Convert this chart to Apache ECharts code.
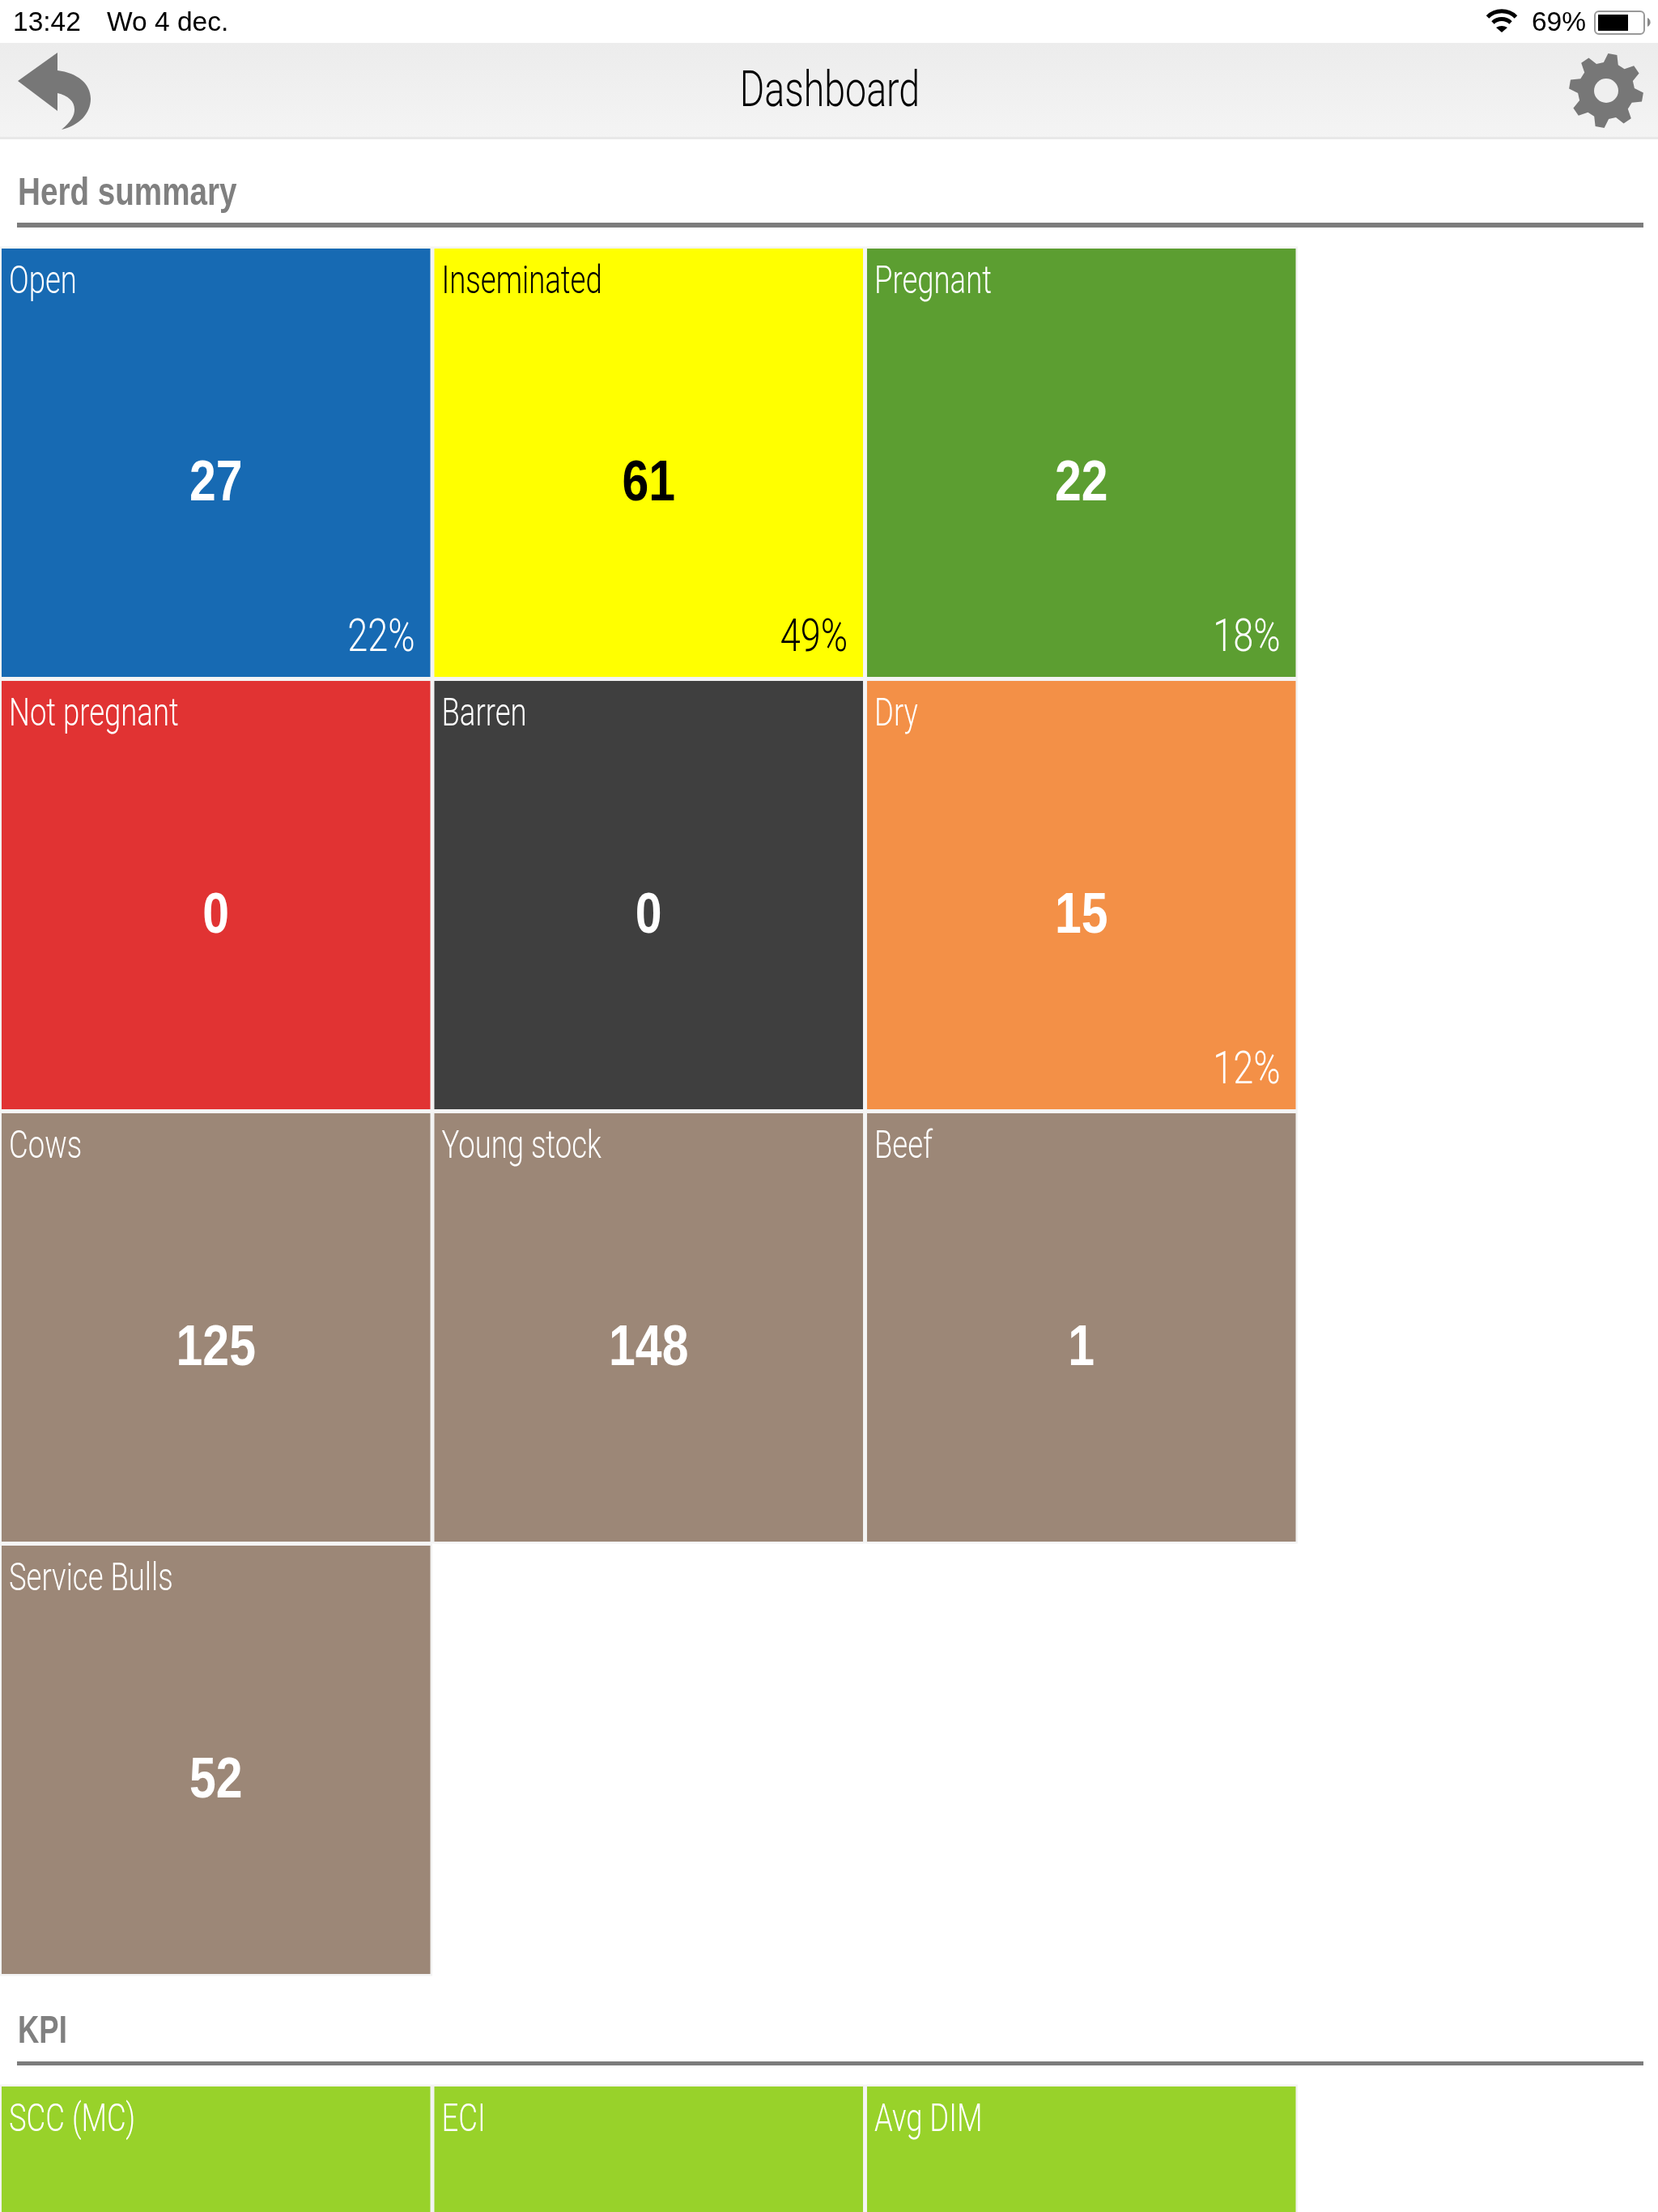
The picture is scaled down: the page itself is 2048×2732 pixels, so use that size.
<!DOCTYPE html>
<html>
<head>
<meta charset="utf-8">
<title>Dashboard</title>
<script src="https://cdn.jsdelivr.net/npm/echarts@6/dist/echarts.min.js"></script>
<style>
html,body{margin:0;padding:0;background:#fff;}
#container{width:2048px;height:2732px;}
</style>
</head>
<body>
<div id="container"></div>
<script>
// herd summary tiles, 3 per row
var herdNames = ['Open','Inseminated','Pregnant','Not pregnant','Barren','Dry','Cows','Young stock','Beef','Service Bulls'];
var herdValues = [27,61,22,0,0,15,125,148,1,52];
var herdPercents = [22,49,18,null,null,12,null,null,null,null];
var herdColumns = [0,1,2];
var herdRows = [0,1,2,3];

// kpi tiles, values are cut off by the screen
var kpiNames = ['SCC (MC)','ECI','Avg DIM'];

var herdColors = ['#176ab3','#ffff00','#5c9e31','#e13333','#3f3f3f','#f39047','#9c8777','#9c8777','#9c8777','#9c8777'];
var herdTextColors = ['#fff','#000','#fff','#fff','#fff','#fff','#fff','#fff','#fff','#fff'];
var kpiColor = '#98d22a';

var LIGHT = '300 48px Roboto,"Liberation Sans",sans-serif';
var BOLD = 'bold 71px "Liberation Sans",sans-serif';
var STATUS = '33.5px "Liberation Sans",sans-serif';

// condensed look: no narrow font is installed, so the text is squeezed
function txt(x, y, text, fill, font, align, sx) {
	return {type:'text', x:x, y:y, scaleX:sx || 1, z:5, style:{x:0, y:0, text:text, fill:fill, font:font, align:align || 'left', verticalAlign:'middle'}};
}

function tile(api, name, color, textColor, value, percent) {
	var c = api.coord([api.value(0), api.value(1)]);
	var s = api.size([1, 1]);
	var x = c[0] - s[0] / 2, y = c[1] - s[1] / 2;
	var gap = 2.5;
	var kids = [
		{type:'rect', shape:{x:x, y:y, width:s[0], height:s[1]}, style:{fill:'#f3f3f3'}},
		{type:'rect', shape:{x:x + gap, y:y + gap, width:s[0] - gap * 2, height:s[1] - gap * 2}, style:{fill:color}},
		txt(x + gap + 9, y + gap + 43, name, textColor, LIGHT, 'left', 0.76)
	];
	if (value !== undefined) {
		kids.push(txt(c[0], c[1] + 27, String(value), textColor, BOLD, 'center', 0.83));
	}
	if (percent !== null && percent !== undefined) {
		kids.push(txt(x + s[0] - gap - 19, y + s[1] - gap - 46, percent + '%', textColor, '300 55px Roboto,"Liberation Sans",sans-serif', 'right', 0.82));
	}
	return {type:'group', children:kids};
}

function gearPath(cx, cy) {
	var teeth = 8, d = '';
	for (var i = 0; i < teeth; i++) {
		var a = (i * 360 / teeth + 10 - 90) * Math.PI / 180;
		var pts = [[35, -15], [46, -7], [46, 7], [35, 15]];
		for (var j = 0; j < pts.length; j++) {
			var t = a + pts[j][1] * Math.PI / 180;
			d += ((i === 0 && j === 0) ? 'M' : 'L') + (cx + pts[j][0] * Math.cos(t)).toFixed(1) + ' ' + (cy + pts[j][0] * Math.sin(t)).toFixed(1) + ' ';
		}
	}
	return d + 'Z';
}

function icons() {
	return {type:'group', children:[
		// back arrow
		{type:'path', shape:{pathData:'M22 100 L71 65 L71 87 C95 90 112 103 112 122 C112 140 98 155 76 160 C88 150 92 143 92 135 C92 125 84 118 71 115 L71 137 Z'}, style:{fill:'#777'}},
		// gear
		{type:'path', shape:{pathData:gearPath(1984, 112)}, style:{fill:'#777'}},
		{type:'circle', shape:{cx:1984, cy:112, r:15}, style:{fill:'#efefef'}},
		// wifi
		{type:'path', shape:{pathData:'M1837.5 21 A25 25 0 0 1 1872.5 21'}, style:{fill:'none', stroke:'#000', lineWidth:5}},
		{type:'path', shape:{pathData:'M1844 28 A16 16 0 0 1 1866 28'}, style:{fill:'none', stroke:'#000', lineWidth:5}},
		{type:'path', shape:{pathData:'M1848 34 Q1855 30 1862 34 L1855 40 Z'}, style:{fill:'#000'}},
		// battery
		{type:'rect', shape:{x:1970, y:14, width:61, height:28, r:5}, style:{fill:'none', stroke:'#999', lineWidth:2}},
		{type:'rect', shape:{x:1974, y:18, width:37, height:20}, style:{fill:'#000'}},
		{type:'path', shape:{pathData:'M2035 22 A6 6 0 0 1 2035 33 Z'}, style:{fill:'#888'}}
	]};
}

var myChart = echarts.init(document.getElementById('container'), null, {renderer:'canvas'});

var herdData = herdNames.map(function(n, i) {
	return [herdColumns[i % 3], herdRows[Math.floor(i / 3)], herdValues[i]];
});
var kpiData = kpiNames.map(function(n, i) {
	return [herdColumns[i], 0];
});

var option = {
	animation:false,
	backgroundColor:'#fff',
	graphic:[
		{type:'rect', z:1, shape:{x:0, y:53, width:2048, height:117}, style:{fill:new echarts.graphic.LinearGradient(0,0,0,1,[{offset:0,color:'#ececec'},{offset:1,color:'#f4f4f4'}])}},
		{type:'rect', z:1, shape:{x:0, y:169, width:2048, height:3}, style:{fill:'#e8e8e8'}},
		{type:'rect', z:1, shape:{x:21, y:275, width:2009, height:6}, style:{fill:'#7c7c7c'}},
		{type:'rect', z:1, shape:{x:21, y:2546, width:2009, height:5}, style:{fill:'#7c7c7c'}},
		txt(16, 29, '13:42', '#000', STATUS),
		txt(132, 29, 'Wo 4 dec.', '#000', STATUS),
		txt(1959, 29, '69%', '#000', STATUS, 'right'),
		txt(1025, 115, 'Dashboard', '#000', '300 62px Roboto,"Liberation Sans",sans-serif', 'center', 0.75),
		txt(22, 240, 'Herd summary', '#808080', 'bold 48px "Liberation Sans",sans-serif', 'left', 0.805),
		txt(22, 2510, 'KPI', '#808080', 'bold 48px "Liberation Sans",sans-serif', 'left', 0.76)
	],
	grid:[
		{left:-0.5, top:304.5, width:1603.5, height:2136, outerBoundsMode:'none'},
		{left:-0.5, top:2574.5, width:1603.5, height:534, outerBoundsMode:'none'}
	],
	xAxis:[
		{type:'category', gridIndex:0, data:herdColumns, show:false},
		{type:'category', gridIndex:1, data:herdColumns, show:false}
	],
	yAxis:[
		{type:'category', gridIndex:0, data:herdRows, inverse:true, show:false},
		{type:'category', gridIndex:1, data:[0], inverse:true, show:false}
	],
	series:[
		{
			type:'custom', xAxisIndex:0, yAxisIndex:0, data:herdData, silent:true, clip:false,
			encode:{x:0, y:1},
			renderItem:function(params, api) {
				var i = params.dataIndex;
				return tile(api, herdNames[i], herdColors[i], herdTextColors[i], herdValues[i], herdPercents[i]);
			}
		},
		{
			type:'custom', xAxisIndex:1, yAxisIndex:1, data:kpiData, silent:true, clip:false,
			encode:{x:0, y:1},
			renderItem:function(params, api) {
				return tile(api, kpiNames[params.dataIndex], kpiColor, '#fff');
			}
		},
		{
			type:'custom', coordinateSystem:'none', data:[[0]], silent:true, z:10,
			renderItem:function() { return icons(); }
		}
	]
};
myChart.setOption(option);
</script>
</body>
</html>
